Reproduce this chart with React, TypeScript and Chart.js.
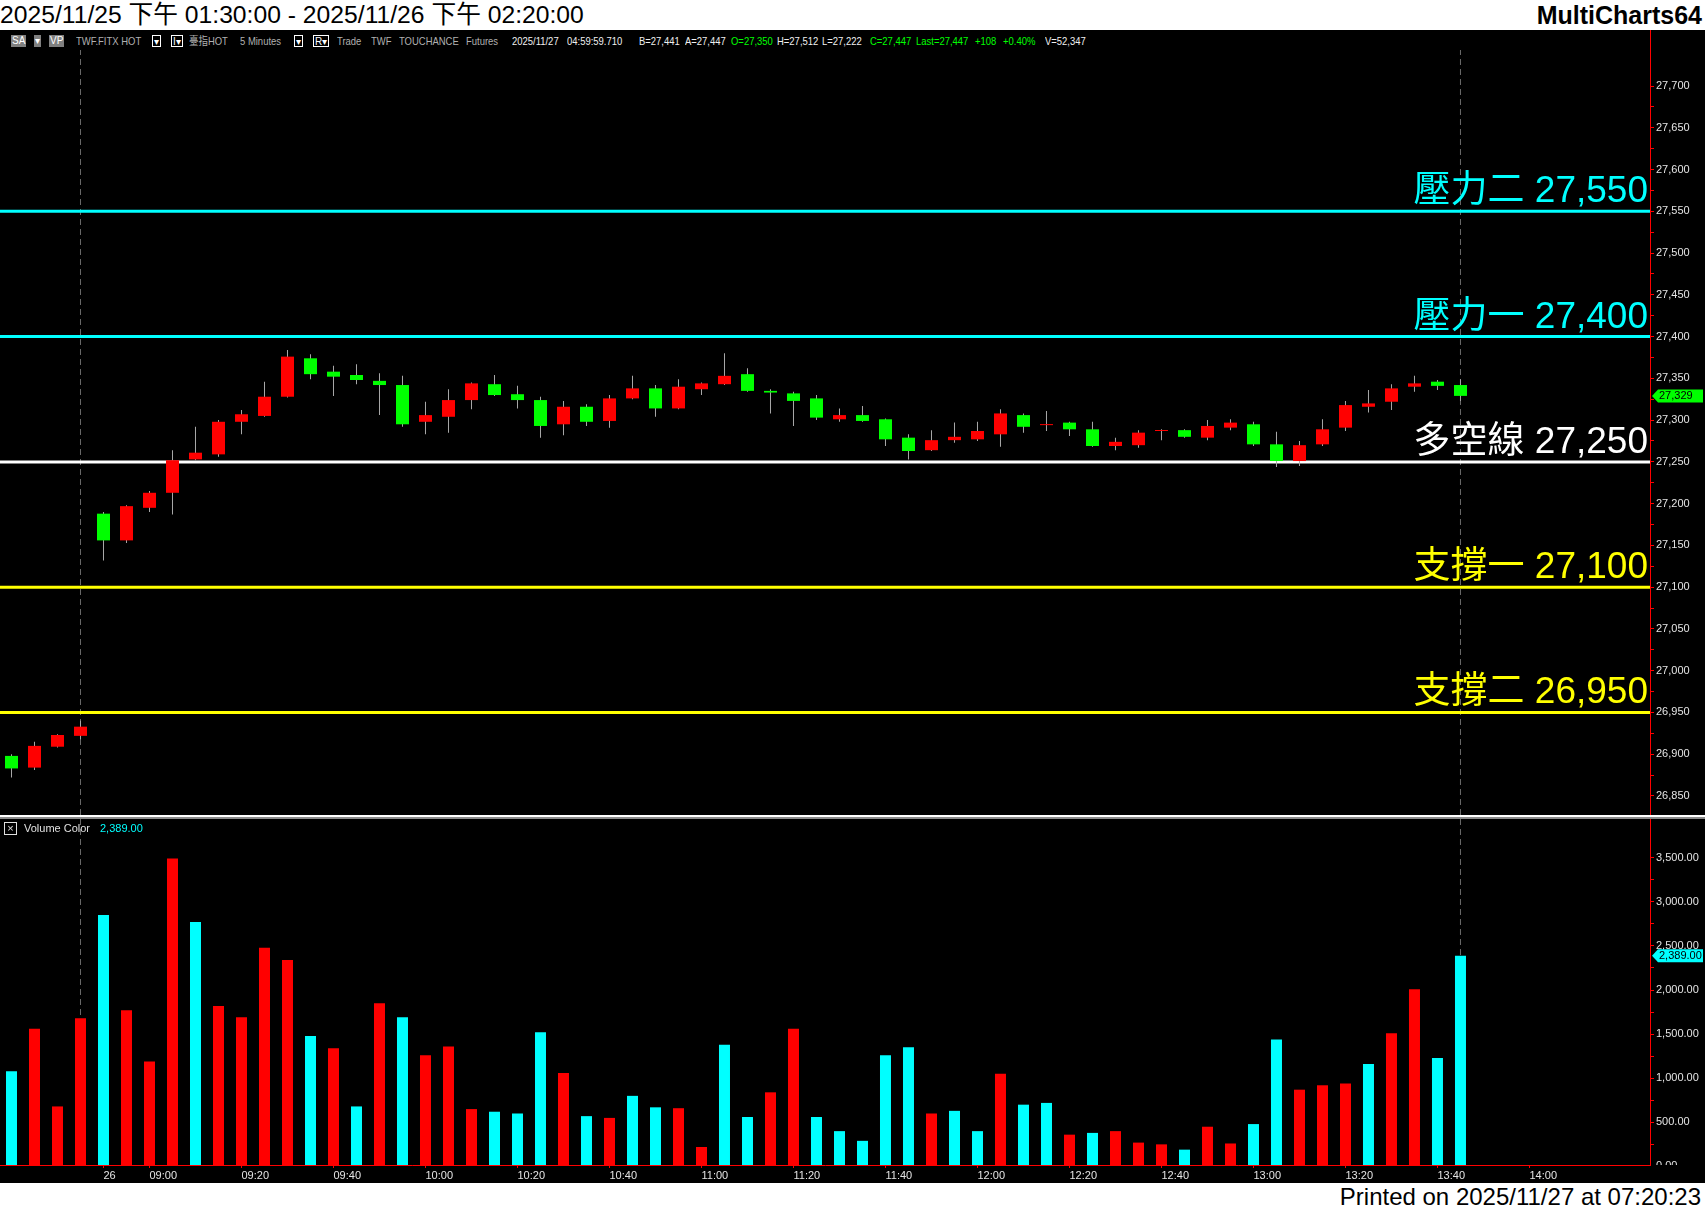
import React, { useEffect, useRef } from 'react';
import { Chart, registerables } from 'chart.js';

Chart.register(...registerables);

// ---------------- data ----------------
const openPrices = [
  26898, 26884, 26909, 26922, 27188, 27156, 27195, 27213, 27253, 27259,
  27298, 27305, 27328, 27374, 27358, 27354, 27347, 27342, 27298, 27304,
  27324, 27343, 27331, 27324, 27295, 27316, 27299, 27326, 27338, 27314,
  27337, 27343, 27355, 27335, 27332, 27326, 27301, 27306, 27301, 27279,
  27264, 27276, 27277, 27283, 27306, 27294, 27297, 27289, 27269, 27270,
  27287, 27288, 27279, 27291, 27295, 27271, 27251, 27271, 27291, 27316,
  27322, 27340, 27346, 27342,
];
const highPrices = [
  26900, 26915, 26924, 26940, 27190, 27198, 27215, 27264, 27292, 27300,
  27312, 27346, 27384, 27379, 27365, 27367, 27356, 27353, 27322, 27337,
  27345, 27354, 27341, 27328, 27323, 27319, 27330, 27353, 27342, 27349,
  27345, 27380, 27362, 27337, 27334, 27330, 27314, 27317, 27302, 27283,
  27288, 27297, 27298, 27313, 27308, 27311, 27298, 27298, 27279, 27288,
  27289, 27289, 27300, 27301, 27298, 27286, 27275, 27301, 27323, 27336,
  27343, 27353, 27348, 27349,
];
const lowPrices = [
  26872, 26881, 26908, 26918, 27132, 27153, 27190, 27187, 27252, 27256,
  27283, 27304, 27327, 27349, 27329, 27343, 27306, 27292, 27283, 27285,
  27313, 27329, 27314, 27279, 27282, 27293, 27291, 27325, 27304, 27313,
  27330, 27342, 27334, 27308, 27293, 27300, 27298, 27298, 27269, 27253,
  27263, 27273, 27275, 27268, 27285, 27287, 27281, 27268, 27264, 27267,
  27276, 27279, 27276, 27288, 27269, 27244, 27245, 27269, 27287, 27309,
  27312, 27334, 27336, 27323,
];
const closePrices = [
  26883, 26910, 26923, 26933, 27156, 27197, 27213, 27252, 27261, 27298,
  27307, 27328, 27376, 27355, 27352, 27348, 27342, 27295, 27306, 27324,
  27344, 27330, 27324, 27293, 27316, 27298, 27326, 27338, 27314, 27340,
  27344, 27353, 27335, 27333, 27323, 27303, 27306, 27299, 27277, 27263,
  27276, 27280, 27287, 27308, 27292, 27295, 27289, 27269, 27274, 27285,
  27288, 27280, 27293, 27297, 27271, 27251, 27270, 27289, 27318, 27320,
  27338, 27344, 27341, 27329,
];
const volumes = [
  1080, 1560, 680, 1680, 2850, 1770, 1190, 3490, 2770, 1820,
  1690, 2480, 2340, 1480, 1340, 680, 1850, 1690, 1260, 1360,
  650, 620, 600, 1520, 1060, 570, 550, 800, 670, 660,
  220, 1380, 560, 840, 1560, 560, 400, 290, 1260, 1350,
  600, 630, 400, 1050, 700, 720, 360, 380, 400, 270,
  250, 190, 450, 260, 480, 1440, 870, 920, 940, 1160,
  1510, 2010, 1230, 2389,
];
// 'u' = red (up volume), 'd' = cyan (down volume)
const volumeDirection = [
  'd', 'u', 'u', 'u', 'd', 'u', 'u', 'u', 'd', 'u',
  'u', 'u', 'u', 'd', 'u', 'd', 'u', 'd', 'u', 'u',
  'u', 'd', 'd', 'd', 'u', 'd', 'u', 'd', 'd', 'u',
  'u', 'd', 'd', 'u', 'u', 'd', 'd', 'd', 'd', 'd',
  'u', 'd', 'd', 'u', 'd', 'd', 'u', 'd', 'u', 'u',
  'u', 'd', 'u', 'u', 'd', 'd', 'u', 'u', 'u', 'd',
  'u', 'u', 'd', 'd',
];
const timeTickBars = [4, 6, 10, 14, 18, 22, 26, 30, 34, 38, 42, 46, 50, 54, 58, 62, 66];
const timeTickLabels = ['26', '09:00', '09:20', '09:40', '10:00', '10:20', '10:40', '11:00', '11:20', '11:40', '12:00', '12:20', '12:40', '13:00', '13:20', '13:40', '14:00'];
const priceTickValues = [26850, 26900, 26950, 27000, 27050, 27100, 27150, 27200, 27250, 27300, 27350, 27400, 27450, 27500, 27550, 27600, 27650, 27700];
const volumeTickValues = [500, 1000, 1500, 2000, 2500, 3000, 3500];
const levelValues = [27550, 27400, 27250, 27100, 26950];
const levelNames = ['壓力二', '壓力一', '多空線', '支撐一', '支撐二'];
const levelColors = ['#00ffff', '#00ffff', '#ffffff', '#ffff00', '#ffff00'];
const sessionBreakBars = [3, 63];

// ---------------- layout ----------------
const W = 1705;
const X_MIN = -0.5;
const X_MAX = 71.24;
const PRICE_MIN = 26827.25;
const PRICE_MAX = 27743.1;
const VOL_MIN = 16;
const VOL_MAX = 3939;
const FONT = "'Liberation Sans', Arial, 'Noto Sans CJK TC', sans-serif";
const RED = '#ff0000';
const GREEN = '#00ff00';
const CYAN = '#00ffff';
const AXIS_TEXT = '#e4e4e4';

const midpoints = (arr: number[]) => arr.slice(0, -1).map((v, i) => (v + arr[i + 1]) / 2);

function drawTag(ctx: CanvasRenderingContext2D, yc: number, color: string, text: string) {
  const xl = 1652;
  const xr = 1703;
  ctx.save();
  ctx.beginPath();
  ctx.moveTo(xl, yc);
  ctx.lineTo(xl + 6, yc - 6.5);
  ctx.lineTo(xr, yc - 6.5);
  ctx.lineTo(xr, yc + 6.5);
  ctx.lineTo(xl + 6, yc + 6.5);
  ctx.closePath();
  ctx.fillStyle = color;
  ctx.fill();
  ctx.fillStyle = '#000';
  ctx.font = `11px ${FONT}`;
  ctx.textAlign = 'left';
  ctx.textBaseline = 'middle';
  ctx.fillText(text, xl + 7, yc + 0.5);
  ctx.restore();
}

const noPad = (s: any) => {
  s.paddingTop = 0;
  s.paddingBottom = 0;
  s.paddingLeft = 0;
  s.paddingRight = 0;
};

const toolbarItems: { x: number; text: string; color?: string; box?: 'gray' | 'outline' }[] = [
  { x: 11, text: 'SA', box: 'gray' },
  { x: 34, text: '▾', box: 'gray' },
  { x: 49, text: 'VP', box: 'gray' },
  { x: 76, text: 'TWF.FITX HOT', color: '#b0b0b0' },
  { x: 152, text: '▾', box: 'outline' },
  { x: 171, text: 'I▾', box: 'outline' },
  { x: 189, text: '臺指HOT', color: '#b0b0b0' },
  { x: 240, text: '5 Minutes', color: '#b0b0b0' },
  { x: 294, text: '▾', box: 'outline' },
  { x: 313, text: 'R▾', box: 'outline' },
  { x: 337, text: 'Trade', color: '#b0b0b0' },
  { x: 371, text: 'TWF', color: '#b0b0b0' },
  { x: 399, text: 'TOUCHANCE', color: '#b0b0b0' },
  { x: 466, text: 'Futures', color: '#b0b0b0' },
  { x: 512, text: '2025/11/27', color: '#f0f0f0' },
  { x: 567, text: '04:59:59.710', color: '#f0f0f0' },
  { x: 639, text: 'B=27,441', color: '#f0f0f0' },
  { x: 685, text: 'A=27,447', color: '#f0f0f0' },
  { x: 731, text: 'O=27,350', color: GREEN },
  { x: 777, text: 'H=27,512', color: '#f0f0f0' },
  { x: 822, text: 'L=27,222', color: '#f0f0f0' },
  { x: 870, text: 'C=27,447', color: GREEN },
  { x: 916, text: 'Last=27,447', color: GREEN },
  { x: 975, text: '+108', color: GREEN },
  { x: 1003, text: '+0.40%', color: GREEN },
  { x: 1045, text: 'V=52,347', color: '#f0f0f0' },
];

export default function App() {
  const priceRef = useRef<HTMLCanvasElement | null>(null);
  const volRef = useRef<HTMLCanvasElement | null>(null);

  useEffect(() => {
    document.body.style.margin = '0';
    document.body.style.background = '#000';
    const bars = closePrices.map((_, i) => i);
    const candleColors = bars.map((i) => (closePrices[i] >= openPrices[i] ? RED : GREEN));

    const levelDatasets = levelValues.map((v, k) => ({
      type: 'line' as const,
      data: [{ x: X_MIN, y: v }, { x: X_MAX, y: v }],
      borderColor: levelColors[k],
      borderWidth: 3,
      pointRadius: 0,
      order: 3,
    }));
    const breakDatasets = (lo: number, hi: number) =>
      sessionBreakBars.map((b) => ({
        type: 'line' as const,
        data: [{ x: b, y: lo }, { x: b, y: hi }],
        borderColor: '#6a6a6a',
        borderWidth: 1,
        borderDash: [6, 4],
        pointRadius: 0,
        order: 4,
      }));

    const pricePlugin = {
      id: 'priceOverlay',
      afterDatasetsDraw(chart: any) {
        const { ctx, chartArea, scales } = chart;
        ctx.save();
        ctx.font = `37px 'Liberation Sans', 'Noto Sans CJK TC', sans-serif`;
        ctx.textAlign = 'right';
        ctx.textBaseline = 'alphabetic';
        levelValues.forEach((v, k) => {
          ctx.fillStyle = levelColors[k];
          ctx.fillText(`${levelNames[k]} ${v.toLocaleString('en-US')}`, chartArea.right - 2, scales.y.getPixelForValue(v) - 9);
        });
        ctx.restore();
      },
      afterDraw(chart: any) {
        const { ctx, chartArea, scales } = chart;
        ctx.save();
        ctx.strokeStyle = RED;
        ctx.lineWidth = 1;
        ctx.beginPath();
        ctx.moveTo(chartArea.right + 0.5, 0);
        ctx.lineTo(chartArea.right + 0.5, chartArea.top);
        ctx.stroke();
        ctx.restore();
        const last = closePrices[closePrices.length - 1];
        drawTag(ctx, scales.y.getPixelForValue(last), GREEN, last.toLocaleString('en-US'));
      },
    };

    const priceChart = new Chart(priceRef.current!, {
      type: 'bar',
      data: {
        datasets: [
          {
            type: 'bar',
            data: bars.map((i) => ({ x: i, y: [openPrices[i], closePrices[i]] })),
            backgroundColor: candleColors,
            barThickness: 13,
            minBarLength: 1,
            grouped: false,
            inflateAmount: 0,
            order: 0,
          } as any,
          {
            type: 'bar',
            data: bars.map((i) => ({ x: i, y: [lowPrices[i], highPrices[i]] })),
            backgroundColor: '#a8a8a8',
            barThickness: 1,
            grouped: false,
            inflateAmount: 0,
            order: 1,
          } as any,
          ...levelDatasets,
          ...breakDatasets(PRICE_MIN, PRICE_MAX),
        ],
      },
      options: {
        animation: false,
        responsive: false,
        maintainAspectRatio: false,
        layout: { padding: { top: 20, left: 0, right: 0, bottom: 0 } },
        plugins: { legend: { display: false }, tooltip: { enabled: false } },
        scales: {
          x: {
            type: 'linear',
            min: X_MIN,
            max: X_MAX,
            offset: false,
            display: false,
            grid: { offset: false },
          },
          y: {
            type: 'linear',
            position: 'right',
            min: PRICE_MIN,
            max: PRICE_MAX,
            beginAtZero: false,
            afterBuildTicks: (s: any) => {
              s.ticks = [...priceTickValues, ...midpoints(priceTickValues)].sort((a, b) => a - b).map((value) => ({ value }));
            },
            afterFit: (s: any) => {
              s.width = 55;
              noPad(s);
            },
            ticks: {
              autoSkip: false,
              padding: 2,
              color: AXIS_TEXT,
              font: { family: FONT, size: 11 },
              callback: (v: any) => (priceTickValues.includes(v) ? Number(v).toLocaleString('en-US') : ''),
            },
            grid: { drawOnChartArea: false, drawTicks: true, tickLength: 4, color: RED },
            border: { display: true, color: RED, width: 1 },
          },
        },
      } as any,
      plugins: [pricePlugin],
    });

    const volPlugin = {
      id: 'volOverlay',
      afterDraw(chart: any) {
        const { ctx, scales, chartArea } = chart;
        // zero label at the bottom of the volume axis, clipped by the pane
        ctx.save();
        ctx.beginPath();
        ctx.rect(chartArea.right + 1, chartArea.top, 60, chartArea.bottom - chartArea.top);
        ctx.clip();
        ctx.fillStyle = AXIS_TEXT;
        ctx.font = `11px ${FONT}`;
        ctx.textAlign = 'left';
        ctx.textBaseline = 'middle';
        ctx.fillText((0).toFixed(2), chartArea.right + 6, scales.y.getPixelForValue(0));
        ctx.restore();
        const last = volumes[volumes.length - 1];
        drawTag(ctx, scales.y.getPixelForValue(last), CYAN, last.toLocaleString('en-US', { minimumFractionDigits: 2 }));
      },
    };

    const volChart = new Chart(volRef.current!, {
      type: 'bar',
      data: {
        datasets: [
          {
            type: 'bar',
            data: bars.map((i) => ({ x: i, y: volumes[i] })),
            backgroundColor: bars.map((i) => (volumeDirection[i] === 'u' ? RED : CYAN)),
            barThickness: 11,
            grouped: false,
            inflateAmount: 0,
            order: 0,
          } as any,
          ...breakDatasets(VOL_MIN, VOL_MAX),
        ],
      },
      options: {
        animation: false,
        responsive: false,
        maintainAspectRatio: false,
        layout: { padding: 0 },
        plugins: { legend: { display: false }, tooltip: { enabled: false } },
        scales: {
          x: {
            type: 'linear',
            min: X_MIN,
            max: X_MAX,
            offset: false,
            position: 'bottom',
            afterBuildTicks: (s: any) => {
              s.ticks = timeTickBars.map((value) => ({ value }));
            },
            afterFit: (s: any) => {
              s.height = 18;
              noPad(s);
            },
            ticks: {
              autoSkip: false,
              maxRotation: 0,
              minRotation: 0,
              align: 'start',
              padding: 1,
              color: AXIS_TEXT,
              font: { family: FONT, size: 11 },
              callback: (v: any) => {
                const k = timeTickBars.indexOf(v);
                return k >= 0 ? timeTickLabels[k] : '';
              },
            },
            grid: { drawOnChartArea: false, drawTicks: true, tickLength: 3, color: RED, offset: false },
            border: { display: true, color: RED, width: 1 },
          },
          y: {
            type: 'linear',
            position: 'right',
            min: VOL_MIN,
            max: VOL_MAX,
            beginAtZero: false,
            afterBuildTicks: (s: any) => {
              s.ticks = [...volumeTickValues, ...midpoints([0, ...volumeTickValues])].sort((a, b) => a - b).map((value) => ({ value }));
            },
            afterFit: (s: any) => {
              s.width = 55;
              noPad(s);
            },
            ticks: {
              autoSkip: false,
              padding: 2,
              color: AXIS_TEXT,
              font: { family: FONT, size: 11 },
              callback: (v: any) => (volumeTickValues.includes(v) ? Number(v).toLocaleString('en-US', { minimumFractionDigits: 2 }) : ''),
            },
            grid: { drawOnChartArea: false, drawTicks: true, tickLength: 4, color: RED },
            border: { display: true, color: RED, width: 1 },
          },
        },
      } as any,
      plugins: [volPlugin],
    });

    return () => {
      priceChart.destroy();
      volChart.destroy();
    };
  }, []);

  const abs = (s: React.CSSProperties): React.CSSProperties => ({ position: 'absolute', ...s });

  return (
    <div style={{ position: 'fixed', left: 0, top: 0, width: W, height: 1211, background: '#000', overflow: 'hidden', fontFamily: FONT }}>
      {/* header */}
      <div style={abs({ left: 0, top: 0, width: W, height: 30, background: '#fff' })}>
        <div style={abs({ left: 0, top: 0, fontSize: 24.7, lineHeight: '30px', color: '#000', whiteSpace: 'nowrap' })}>
          2025/11/25 下午 01:30:00 - 2025/11/26 下午 02:20:00
        </div>
        <div style={abs({ right: 3, top: 0, fontSize: 25, fontWeight: 'bold', lineHeight: '30px', color: '#000', whiteSpace: 'nowrap' })}>
          MultiCharts64
        </div>
      </div>
      {/* toolbar */}
      {toolbarItems.map((it, k) => (
        <div
          key={k}
          style={abs({
            left: it.x,
            top: 35,
            height: it.box ? 12 : 13,
            lineHeight: it.box ? '12px' : '13px',
            fontSize: it.box ? 10 : 11,
            whiteSpace: 'nowrap',
            color: it.box ? '#fff' : it.color,
            background: it.box === 'gray' ? '#808080' : 'transparent',
            border: it.box === 'outline' ? '1px solid #ffffff' : 'none',
            padding: it.box ? '0 1px' : 0,
            boxSizing: 'border-box',
            transform: it.box ? undefined : 'scaleX(0.86)',
            transformOrigin: 'left center',
          })}
        >
          {it.text}
        </div>
      ))}
      {/* price pane */}
      <canvas ref={priceRef} width={W} height={785} style={abs({ left: 0, top: 30, width: W, height: 785 })} />
      {/* volume pane */}
      <canvas ref={volRef} width={W} height={364} style={abs({ left: 0, top: 819, width: W, height: 364 })} />
      {/* pane separator */}
      <div style={abs({ left: 0, top: 815, width: W, height: 2, background: '#ffffff' })} />
      <div style={abs({ left: 0, top: 817, width: W, height: 2, background: '#8a8a8a' })} />
      {/* volume label */}
      <div style={abs({ left: 4, top: 822, width: 13, height: 13, border: '1px solid #e0e0e0', boxSizing: 'border-box', color: '#e0e0e0', fontSize: 11, lineHeight: '10px', textAlign: 'center' })}>×</div>
      <div style={abs({ left: 24, top: 822, fontSize: 11, lineHeight: '13px', color: '#e0e0e0', whiteSpace: 'nowrap' })}>Volume Color</div>
      <div style={abs({ left: 100, top: 822, fontSize: 11, lineHeight: '13px', color: CYAN, whiteSpace: 'nowrap' })}>2,389.00</div>
      {/* footer */}
      <div style={abs({ left: 0, top: 1183, width: W, height: 28, background: '#fff' })}>
        <div style={abs({ right: 4, top: 0, fontSize: 24, lineHeight: '28px', color: '#000', whiteSpace: 'nowrap' })}>
          Printed on 2025/11/27 at 07:20:23
        </div>
      </div>
    </div>
  );
}
